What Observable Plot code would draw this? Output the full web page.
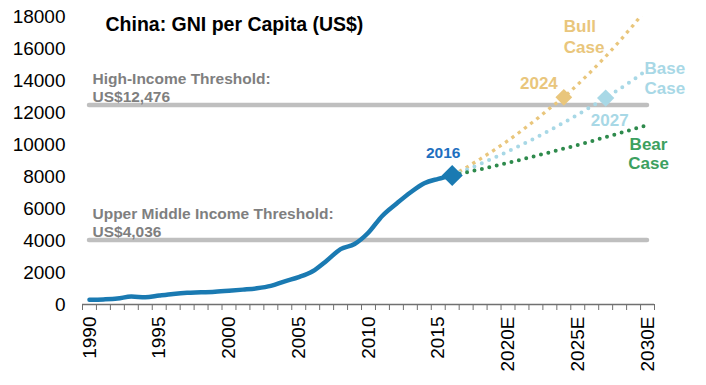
<!DOCTYPE html>
<html><head><meta charset="utf-8">
<script src="https://cdn.jsdelivr.net/npm/d3@7"></script>
<script src="https://cdn.jsdelivr.net/npm/@observablehq/plot@0.6"></script>
<style>
html,body{margin:0;padding:0;background:#fff;}
svg{display:block;}
</style>
</head><body><div id="chart"></div>
<script>
// Historical GNI per capita (US$)
const years = [1990,1991,1992,1993,1994,1995,1996,1997,1998,1999,2000,2001,2002,2003,2004,2005,2006,2007,2008,2009,2010,2011,2012,2013,2014,2015,2016];
const gni = [300,320,370,500,450,560,660,730,760,800,860,930,1010,1160,1450,1710,2080,2740,3460,3780,4500,5550,6300,7000,7580,7850,8060];

// Projections 2016-2030E
const projYears = [2016,2017,2018,2019,2020,2021,2022,2023,2024,2025,2026,2027,2028,2029,2030];
const bull = [8060,8560,9090,9650,10240,10880,11550,12270,12950,13750,14600,15500,16460,17480,18560];
const base = [8060,8410,8780,9170,9570,9990,10430,10890,11370,11870,12390,12900,13470,14060,14680];
const bear = [8060,8250,8450,8650,8860,9070,9290,9510,9740,9970,10210,10460,10710,10960,11220];

// Thresholds
const thresholds = [12476, 4036];
const thresholdLabels = ["High-Income Threshold:\nUS$12,476", "Upper Middle Income Threshold:\nUS$4,036"];

// Milestones
const milestoneYears = [2016, 2024, 2027];
const milestoneValues = [8060, 12950, 12900];
const milestoneLabels = ["2016", "2024", "2027"];

// Scenario labels
const scenarioLabels = ["Bull\nCase", "Base\nCase", "Bear\nCase"];

// Axis ticks
const yTicks = [0,2000,4000,6000,8000,10000,12000,14000,16000,18000];
const xLabelYears = [1990,1995,2000,2005,2010,2015,2020,2025,2030];
const firstEstimateYear = 2020;
const title = "China: GNI per Capita (US$)";

const FONT = "'Liberation Sans', Arial, sans-serif";
const boundaries = d3.range(years[0] - 0.5, projYears[projYears.length - 1] + 1, 1);

const C = {
  main: "#1A7AB2", label2016: "#1F70C0",
  bull: "#E9C67C", base: "#A8D8E6", bear: "#2E8A4C", bearText: "#3DA060",
  threshold: "#BFBFBF", thresholdText: "#7F7F7F", axis: "#707070"
};

const plot = Plot.plot({
  width: 706, height: 385,
  marginTop: 16, marginBottom: 81, marginLeft: 82, marginRight: 52,
  x: {domain: [1989.5, 2030.5]},
  y: {domain: [0, 18000]},
  style: {fontFamily: FONT, background: "white", color: "black", overflow: "visible"},
  marks: [
    Plot.axisY({ticks: yTicks, tickSize: 0, tickPadding: 17, fontSize: 19, tickFormat: d => String(d), label: null}),
    Plot.axisX({ticks: boundaries, tickSize: 6, stroke: C.axis, tickFormat: () => "", label: null}),
    Plot.axisX({ticks: xLabelYears, tickSize: 0, tickRotate: -90, tickPadding: 12, fontSize: 19,
      tickFormat: d => d >= firstEstimateYear ? d + "E" : String(d), label: null}),
    Plot.ruleY([0], {stroke: C.axis, strokeWidth: 1.3}),
    // threshold lines
    Plot.ruleY(thresholds, {y: d => d, x1: years[0], x2: projYears[projYears.length - 1], stroke: C.threshold, strokeWidth: 4.5, strokeLinecap: "round"}),
    Plot.text(thresholds, {x: years[0], y: d => d, text: (d, i) => thresholdLabels[i], textAnchor: "start", lineAnchor: "bottom",
      dx: 3, dy: -3, fontSize: 15.5, fontWeight: "bold", fill: C.thresholdText, lineHeight: 1.13}),
    // projections
    Plot.line(projYears, {x: projYears, y: bull, stroke: C.bull, strokeWidth: 3.3, strokeDasharray: "3.3 4.5", strokeLinecap: "butt", clip: true}),
    Plot.line(projYears, {x: projYears, y: base, stroke: C.base, strokeWidth: 4, strokeDasharray: "0 8", strokeLinecap: "round"}),
    Plot.line(projYears, {x: projYears, y: bear, stroke: C.bear, strokeWidth: 4, strokeDasharray: "0 7.6", strokeLinecap: "round"}),
    // history
    Plot.line(years, {x: years, y: gni, stroke: C.main, strokeWidth: 4.5, curve: "monotone-x", strokeLinejoin: "round"}),
    // milestones
    Plot.dot([0], {x: [milestoneYears[0]], y: [milestoneValues[0]], symbol: "square", rotate: 45, r: 8.4, fill: C.main}),
    Plot.dot([1], {x: [milestoneYears[1]], y: [milestoneValues[1]], symbol: "square", rotate: 45, r: 6.7, fill: C.bull}),
    Plot.dot([2], {x: [milestoneYears[2]], y: [milestoneValues[2]], symbol: "square", rotate: 45, r: 6.9, fill: C.base}),
    Plot.text([0], {x: [milestoneYears[0]], y: [milestoneValues[0]], text: [milestoneLabels[0]], textAnchor: "middle", lineAnchor: "bottom", dx: -9, dy: -18, fontSize: 15.5, fontWeight: "bold", fill: C.label2016}),
    Plot.text([1], {x: [milestoneYears[1]], y: [milestoneValues[1]], text: [milestoneLabels[1]], textAnchor: "end", lineAnchor: "bottom", dx: -6, dy: -8, fontSize: 17, fontWeight: "bold", fill: C.bull}),
    Plot.text([2], {x: [milestoneYears[2]], y: [milestoneValues[2]], text: [milestoneLabels[2]], textAnchor: "middle", lineAnchor: "bottom", dx: 4, dy: 28, fontSize: 17, fontWeight: "bold", fill: C.base}),
    // scenario labels
    Plot.text([0], {x: [2024], y: [18000], text: [scenarioLabels[0]], textAnchor: "start", lineAnchor: "bottom", dx: 0, dy: 36, fontSize: 17, fontWeight: "bold", fill: C.bull, lineHeight: 1.18}),
    Plot.text([1], {x: [projYears[projYears.length - 1]], y: [base[base.length - 1]], text: [scenarioLabels[1]], textAnchor: "start", lineAnchor: "bottom", dx: -3, dy: 24, fontSize: 17, fontWeight: "bold", fill: C.base, lineHeight: 1.18}),
    Plot.text([2], {x: [projYears[projYears.length - 1]], y: [bear[bear.length - 1]], text: [scenarioLabels[2]], textAnchor: "middle", lineAnchor: "bottom", dx: 1, dy: 44.5, fontSize: 17, fontWeight: "bold", fill: C.bearText, lineHeight: 1.12}),
    // title
    Plot.text([title], {frameAnchor: "top-left", text: d => d, textAnchor: "start", lineAnchor: "bottom", dx: 23, dy: 14.7, fontSize: 19.5, fontWeight: "bold", fill: "black"})
  ]
});
document.getElementById("chart").appendChild(plot);
</script>
</body></html>
